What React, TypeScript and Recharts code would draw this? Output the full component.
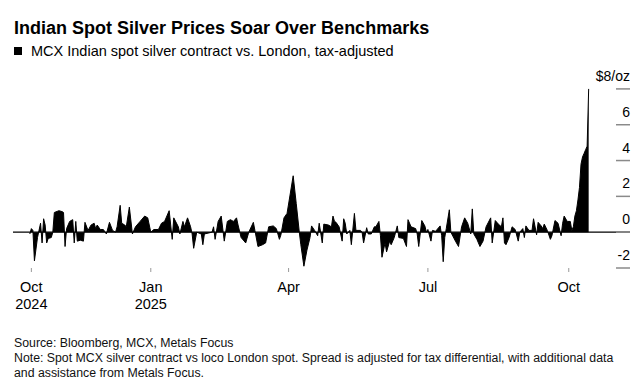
import { AreaChart, Area, XAxis, YAxis, ReferenceLine } from "recharts";

// [days since 2024-10-01, spread in $/oz]
const octDec2024 = [
  [13, -0.1], [14, 0.2], [15, 0.1], [16, -1.6], [18, -0.3], [20, 0.5], [21, -0.6],
  [22, 0.75], [23, 0.4], [24, -0.6], [25, -0.35], [27, -0.3], [28, 0], [29, 1.1],
  [32, 1.2], [34, 1.15], [35, 1.1], [36, -0.8], [37, 0.2], [39, 0.6], [41, 0.7],
  [42, -0.6], [43, 0.6], [44, -0.5], [46, -0.45], [48, -0.5], [49, 0.55], [51, 0.1],
  [53, 0.4], [55, 0.5], [56, 0.2], [57, 0.4], [59, 0.15], [61, 0.15], [63, -0.1],
  [65, 0.55], [67, 0.1], [69, 0], [70, 0.3], [72, 1.5], [73, 0.5], [75, 0.4],
  [76, 0.3], [78, 1.4], [80, -0.1], [82, 0.3], [85, 0.6], [88, 0.9], [90, 0.8],
];
const janMar2025 = [
  [92, 0], [94, 0.15], [97, 0.15], [99, 0.5], [101, 0.6], [104, 1.2], [106, -0.4],
  [107, 0.8], [110, 0.3], [111, -0.1], [113, 0.6], [114, 0.3], [116, 0.8], [118, 0.3],
  [119, -0.1], [120, -0.9], [122, 0], [125, -0.1], [126, -0.7], [127, -0.1], [132, 0],
  [133, 0.3], [134, -0.4], [136, 0.6], [138, 0.9], [140, -0.5], [142, 0.6], [144, 0.7],
  [146, 0.6], [148, 0.8], [149, 0.4], [151, -0.3], [154, -0.6], [156, 0], [159, 0.55],
  [160, 0.1], [162, -0.8], [165, -0.7], [167, -0.6], [169, 0.3], [172, 0.35],
  [174, 0.2], [176, -0.4], [177, -0.15], [179, 0.8],
];
const aprJun2025 = [
  [181, 1.05], [185, 3.15], [187, 1.6], [189, 0], [190, -0.7], [192, -1.9], [194, -1.0],
  [196, -0.3], [197, 0.35], [199, 0.1], [201, -0.2], [202, 0.5], [204, -0.6], [205, 0.45],
  [208, 0.4], [210, 0.3], [211, 0.9], [212, 0.6], [213, 0.55], [215, 0.3], [217, -0.5],
  [218, 0.75], [219, 0.5], [220, -0.1], [222, 0.1], [223, -0.7], [225, 1.05], [226, 0.1],
  [229, 0.1], [230, 0], [231, -0.6], [233, 0.25], [234, -0.1], [236, -0.1], [238, 0.3],
  [239, 0.3], [241, 0.6], [242, -0.2], [243, -1.4], [245, -0.6], [246, -1.1], [248, -0.5],
  [249, -0.7], [251, -0.3], [253, 0.35], [254, -0.3], [257, -0.35], [259, -0.8],
  [260, 0.7], [262, 0.3], [265, 0.2], [266, -0.1], [267, -0.8], [269, 0.65], [271, 0.35],
  [272, 0],
];
const julSep2025 = [
  [273, 0.15], [275, -0.5], [276, 0.1], [278, 0.05], [279, 0.15], [281, 0.35], [282, -0.2],
  [283, -1.65], [284, -0.3], [285, 0.2], [287, 1.25], [288, 0], [291, -0.5], [293, -0.8],
  [295, 0.3], [297, 0.8], [299, 0.5], [301, -0.1], [302, 1.3], [303, -0.1], [305, -0.4],
  [307, -0.8], [309, -0.5], [311, 0.3], [314, 0.8], [315, -0.6], [317, 0.65], [319, 0.45],
  [321, 0.3], [322, 0.8], [323, -0.6], [324, -0.7], [326, -0.3], [328, 0.3], [330, 0.15],
  [332, -0.5], [333, 0], [335, 0.2], [336, -0.3], [337, 0.35], [339, 0.1], [341, 0.1],
  [342, 0.75], [344, -0.15], [345, 0.55], [347, 0.35], [348, 0.2], [349, 0.45], [351, 0.1],
  [353, -0.4], [354, -0.2], [356, 0.65], [358, 0.5], [360, -0.2], [361, 0.5], [362, 0.9],
  [364, 0.6],
];
const oct2025 = [
  [366, 0.6], [367, 0.1], [368, 0.3], [369, 0.9], [370, 1.2], [371, 1.8], [372, 2.5],
  [373, 3.8], [374, 4.2], [375, 4.4], [376, 4.6], [377, 4.8], [378, 8.0],
];

const xTicks = [14, 92, 182, 273, 365];
const xTickMonths = ["Oct", "Jan", "Apr", "Jul", "Oct"];
const xTickYears = ["2024", "2025", "", "", ""];
const yTicks = [-2, 0, 2, 4, 6, 8];

const data = [...octDec2024, ...janMar2025, ...aprJun2025, ...julSep2025, ...oct2025].map(
  ([day, spread]) => ({ day, spread })
);

const FONT = "'Liberation Sans', Arial, Helvetica, sans-serif";

const XTick = ({ x, y, payload }: any) => {
  const i = xTicks.indexOf(payload.value);
  return (
    <text x={x} y={y} textAnchor="middle" fontSize={14.5} fill="#000" fontFamily={FONT}>
      <tspan x={x} dy={20}>{xTickMonths[i]}</tspan>
      <tspan x={x} dy={17}>{xTickYears[i]}</tspan>
    </text>
  );
};

const YTick = ({ x, y, payload }: any) => (
  <g>
    <line x1={x - 14} x2={x} y1={y} y2={y} stroke="#8a8a8a" strokeWidth={1.5} />
    <text x={x} y={y - 8} textAnchor="end" fontSize={14} fill="#000" fontFamily={FONT}>
      {payload.value === 8 ? "$8/oz" : payload.value}
    </text>
  </g>
);

const App = () => {
  return (
    <div style={{ position: "absolute", left: 0, top: 0, width: 643, height: 388, background: "#fff", fontFamily: FONT, color: "#000" }}>
      <div style={{ position: "absolute", left: 14, top: 19, fontSize: 18, fontWeight: "bold", lineHeight: 1, whiteSpace: "nowrap" }}>
        Indian Spot Silver Prices Soar Over Benchmarks
      </div>
      <div style={{ position: "absolute", left: 14, top: 44, fontSize: 14.5, lineHeight: 1, whiteSpace: "nowrap", display: "flex", alignItems: "center" }}>
        <span style={{ display: "inline-block", width: 7.5, height: 8, background: "#000", marginRight: 9.5 }} />
        MCX Indian spot silver contract vs. London, tax-adjusted
      </div>
      <div style={{ position: "absolute", left: 0, top: 0 }}>
        <AreaChart width={643} height={388} data={data} margin={{ top: 71, right: 12, bottom: 80, left: 13 }}>
          <XAxis
            dataKey="day"
            type="number"
            domain={[2, 405]}
            ticks={xTicks}
            tick={<XTick />}
            axisLine={false}
            tickLine={{ stroke: "#999" }}
            tickSize={4}
            tickMargin={0}
            height={40}
            interval={0}
          />
          <YAxis
            orientation="right"
            domain={[-2, 9]}
            ticks={yTicks}
            tick={<YTick />}
            axisLine={false}
            tickLine={false}
            tickSize={0}
            tickMargin={0}
            width={1}
            interval={0}
          />
          <Area
            type="linear"
            dataKey="spread"
            stroke="#000"
            strokeWidth={1}
            fill="#000"
            fillOpacity={1}
            baseValue={0}
            isAnimationActive={false}
          />
          <ReferenceLine y={0} stroke="#000" strokeWidth={1.2} />
        </AreaChart>
      </div>
      <div style={{ position: "absolute", left: 14, top: 336, fontSize: 12.3, lineHeight: "15px", whiteSpace: "nowrap", color: "#111" }}>
        Source: Bloomberg, MCX, Metals Focus
        <br />
        Note: Spot MCX silver contract vs loco London spot. Spread is adjusted for tax differential, with additional data
        <br />
        and assistance from Metals Focus.
      </div>
    </div>
  );
};

export default App;
